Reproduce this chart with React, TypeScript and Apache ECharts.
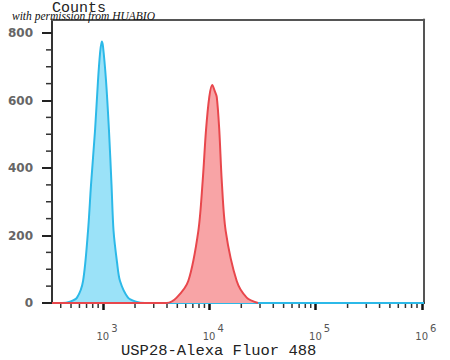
import React, { useEffect, useRef } from "react";
import * as echarts from "echarts";

// x values are log10(fluorescence intensity)
const xMin = 2.52;
const xMax = 6.02;
const xMajorTicks = [3, 4, 5, 6];
const xMinorMultipliers = [2, 3, 4, 5, 6, 7, 8, 9];
const yMajorTicks = [0, 200, 400, 600, 800];
const yMinorTicks = [50, 100, 150, 250, 300, 350, 450, 500, 550, 650, 700, 750];
const yMax = 840;

const blueLog = [2.52, 2.614, 2.69, 2.755, 2.812, 2.859, 2.887, 2.925, 2.953, 2.972, 2.988, 3.0, 3.028, 3.056, 3.08, 3.099, 3.132, 3.16, 3.235, 3.31, 3.395, 6.02];
const blueCounts = [0, 0, 4, 16, 65, 214, 350, 512, 660, 740, 775, 760, 660, 512, 350, 214, 120, 65, 16, 4, 0, 0];

const redLog = [2.52, 3.599, 3.693, 3.802, 3.897, 3.938, 3.969, 4.0, 4.028, 4.049, 4.07, 4.094, 4.117, 4.154, 4.258, 4.352, 4.458];
const redCounts = [0, 0, 16, 65, 214, 363, 512, 611, 646, 630, 611, 512, 363, 214, 65, 16, 0];

const yTitle = "Counts";
const xTitle = "USP28-Alexa Fluor 488";
const watermark = "with permission from HUABIO";

export default function App() {
  const ref = useRef<HTMLDivElement>(null);
  useEffect(() => {
    if (!ref.current) return;
    const chart = echarts.init(ref.current, undefined, { renderer: "svg" });
    const minorX: number[] = [];
    for (let d = 2; d <= 5; d++) {
      for (const k of xMinorMultipliers) {
        const v = d + Math.log10(k);
        if (v > xMin && v < xMax) minorX.push(v);
      }
    }
    const zip = (a: number[], b: number[]) => a.map((v, i) => [v, b[i]]);
    const labelFont = "DejaVu Sans";
    const frameAxis = {
      type: "value",
      axisLine: { show: true, onZero: false, lineStyle: { color: "#555", width: 2 } },
      axisTick: { show: false },
      axisLabel: { show: false },
      minorTick: { show: false },
      splitLine: { show: false },
    };
    chart.setOption({
      animation: false,
      grid: {
        left: 52,
        right: 26,
        top: 19.5,
        bottom: 57,
        show: false,
      },
      xAxis: [
        {
          type: "value",
          min: xMin,
          max: xMax,
          position: "bottom",
          axisLine: { show: true, onZero: false, lineStyle: { color: "#333", width: 2 } },
          axisTick: {
            show: true,
            customValues: xMajorTicks,
            length: 7,
            inside: false,
            lineStyle: { color: "#111", width: 2.5 },
          },
          axisLabel: {
            customValues: xMajorTicks,
            margin: 20,
            formatter: (v: number) => `{b|10}{s|${Math.round(v)}}`,
            rich: {
              b: { fontSize: 10, fontFamily: labelFont, color: "#555", padding: [8, 0, 0, 8] },
              s: { fontSize: 10, fontFamily: labelFont, color: "#555", padding: [0, 0, 8, 2] },
            },
          },
          splitLine: { show: false },
        },
        { ...frameAxis, min: xMin, max: xMax, position: "top" },
      ],
      yAxis: [
        {
          type: "value",
          min: 0,
          max: yMax,
          position: "left",
          axisLine: { show: true, onZero: false, lineStyle: { color: "#333", width: 2 } },
          axisTick: {
            show: true,
            customValues: yMajorTicks,
            length: 10,
            lineStyle: { color: "#222", width: 2 },
          },
          axisLabel: {
            customValues: yMajorTicks,
            margin: 19,
            fontSize: 12,
            fontWeight: "bold",
            fontFamily: labelFont,
            color: "#666",
          },
          splitLine: { show: false },
        },
        { ...frameAxis, min: 0, max: yMax, position: "right" },
      ],
      series: [
        {
          type: "line",
          name: "control",
          data: zip(blueLog, blueCounts),
          smooth: 0.3,
          symbol: "none",
          lineStyle: { color: "#2cb9e8", width: 2 },
          areaStyle: { color: "#9be2f8", opacity: 1 },
          z: 2,
        },
        {
          type: "line",
          name: "USP28",
          data: zip(redLog, redCounts),
          smooth: 0.3,
          symbol: "none",
          lineStyle: { color: "#e8474c", width: 2 },
          areaStyle: { color: "#f8a4a6", opacity: 1 },
          z: 3,
        },
        {
          type: "custom",
          name: "xMinor",
          clip: false,
          silent: true,
          data: minorX.map((v) => [v, 0]),
          encode: { x: 0, y: 1 },
          renderItem: (_params: any, api: any) => {
            const p = api.coord([api.value(0), 0]);
            return {
              type: "line",
              shape: { x1: p[0], y1: p[1] + 1, x2: p[0], y2: p[1] + 5 },
              style: { stroke: "#333", lineWidth: 1.5 },
            };
          },
          z: 5,
        },
        {
          type: "custom",
          name: "yMinor",
          clip: false,
          silent: true,
          data: yMinorTicks.map((v) => [xMin, v]),
          encode: { x: 0, y: 1 },
          renderItem: (_params: any, api: any) => {
            const p = api.coord([xMin, api.value(1)]);
            return {
              type: "line",
              shape: { x1: p[0] - 6, y1: p[1], x2: p[0] - 1, y2: p[1] },
              style: { stroke: "#333", lineWidth: 1.5 },
            };
          },
          z: 5,
        },
      ],
      graphic: [
        {
          type: "text",
          left: 52,
          top: 1,
          style: { text: yTitle, font: "15px 'Liberation Mono'", fill: "#222" },
          z: 10,
        },
        {
          type: "text",
          left: 12,
          top: 10,
          style: { text: watermark, font: "italic 11.5px 'Liberation Serif'", fill: "#111" },
          z: 11,
        },
        {
          type: "text",
          left: 121,
          top: 343,
          style: { text: xTitle, font: "15.5px 'Liberation Mono'", fill: "#222" },
          z: 10,
        },
      ],
    });
    return () => chart.dispose();
  }, []);
  return <div ref={ref} style={{ width: 450, height: 360, position: "absolute", left: 0, top: 0 }} />;
}
